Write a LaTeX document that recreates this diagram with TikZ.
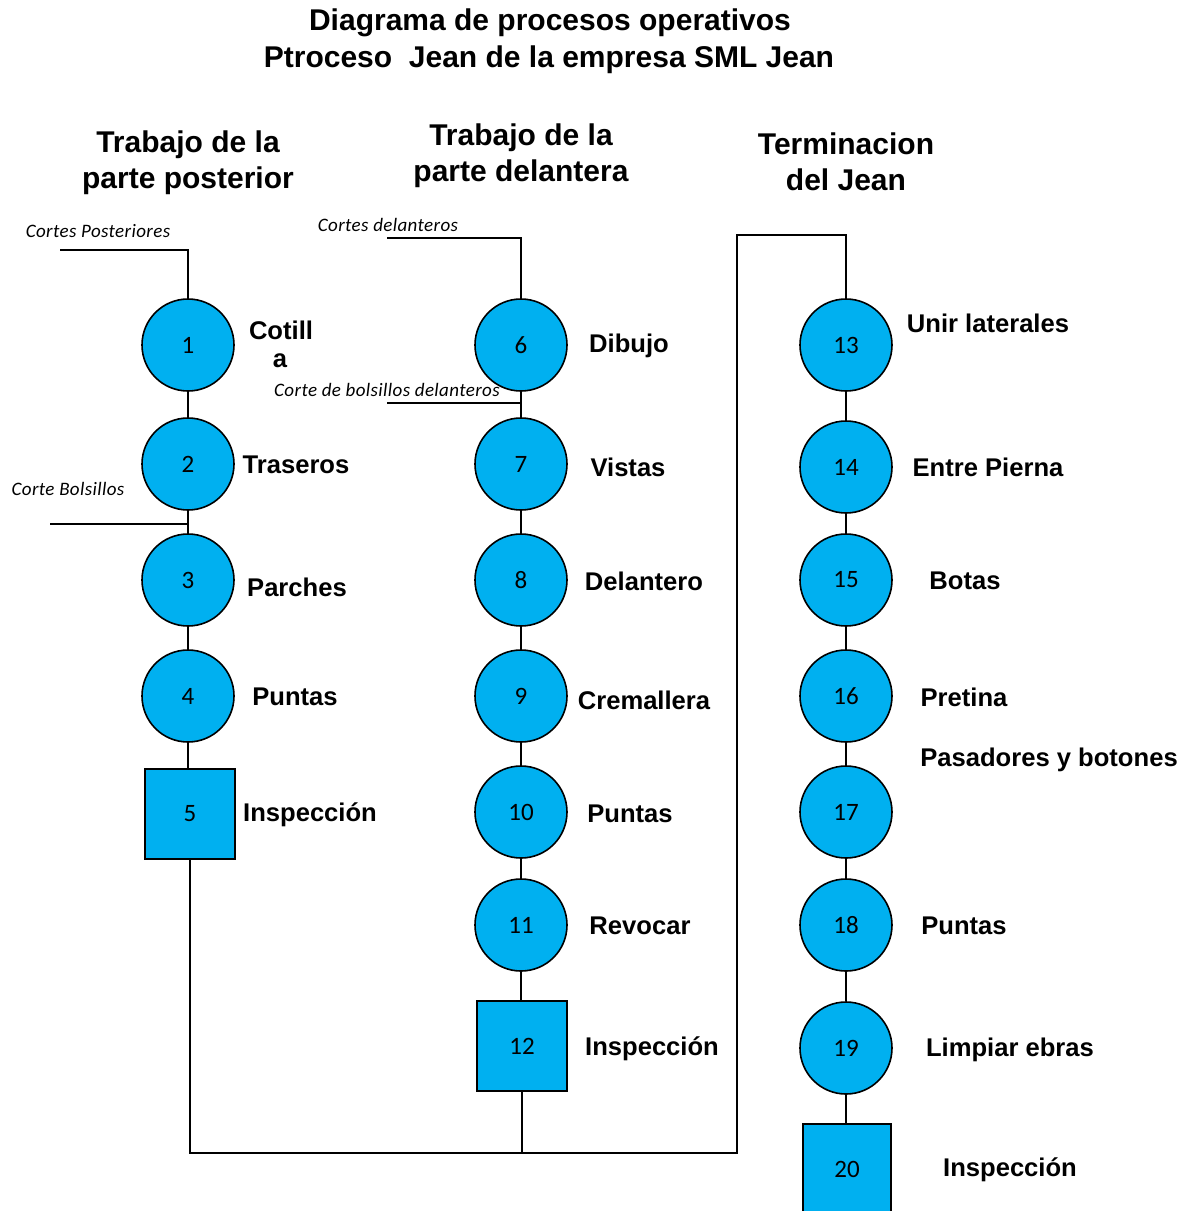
\documentclass[tikz,border=0pt]{standalone}
\usepackage{fontspec}
\setmainfont{Liberation Sans}
\newfontfamily\carl{Carlito}
\newfontfamily\carlsp[LetterSpace=2]{Carlito}
\definecolor{opblue}{RGB}{0,176,240}
\begin{document}
\begin{tikzpicture}[x=0.5pt,y=-0.5pt,
  op/.style={circle,draw=black,line width=0.8pt,fill=opblue,minimum size=46pt,inner sep=0pt,font=\carl\fontsize{12.5}{13}\selectfont},
  insp/.style={rectangle,draw=black,line width=0.8pt,fill=opblue,minimum width=45pt,minimum height=45pt,inner sep=0pt,font=\carl\fontsize{12.5}{13}\selectfont},
  lbl/.style={font=\bfseries\fontsize{12.8}{14}\selectfont,inner sep=0pt},
  head/.style={font=\bfseries\fontsize{15}{18}\selectfont,align=center,inner sep=0pt},
  small/.style={font=\carlsp\itshape\fontsize{9.5}{10}\selectfont,inner sep=0pt},
  conn/.style={draw=black,line width=1pt}]
\useasboundingbox (0,0) rectangle (1193,1211);
% titles
\node[head] (t1) at (550,23) {Diagrama de procesos operativos};
\node[head] (t2) at (549,60) {Ptroceso\ \ Jean de la empresa SML Jean};
\node[head] (h1) at (188,163) {Trabajo de la\\parte posterior};
\node[head] (h2) at (521,156) {Trabajo de la\\parte delantera};
\node[head] (h3) at (846,162) {Terminacion\\del Jean};
% column 1
\node[op] (c1) at (188,345) {1};
\node[op] (c2) at (188,464) {2};
\node[op] (c3) at (188,580) {3};
\node[op] (c4) at (188,696) {4};
\node[insp] (b5) at (190,814) {5};
% column 2
\node[op] (c6) at (521,345) {6};
\node[op] (c7) at (521,464) {7};
\node[op] (c8) at (521,580) {8};
\node[op] (c9) at (521,696) {9};
\node[op] (c10) at (521,812) {10};
\node[op] (c11) at (521,925) {11};
\node[insp] (b12) at (522,1046) {12};
% column 3
\node[op] (c13) at (846,345) {13};
\node[op] (c14) at (846,467) {14};
\node[op] (c15) at (846,580) {15};
\node[op] (c16) at (846,696) {16};
\node[op] (c17) at (846,812) {17};
\node[op] (c18) at (846,925) {18};
\node[op] (c19) at (846,1048) {19};
\node[insp,minimum width=44pt] (b20) at (847,1169) {20};
% labels
\node[lbl] (l1a) at (281,330) {Cotill};
\node[lbl] (l1b) at (280,361) {a};
\node[lbl] (l2) at (296,465) {Traseros};
\node[lbl] (l3) at (297,587) {Parches};
\node[lbl] (l4) at (295,697) {Puntas};
\node[lbl] (l5) at (310,815) {Inspección};
\node[lbl] (l6) at (629,346) {Dibujo};
\node[lbl] (l7) at (628,467) {Vistas};
\node[lbl] (l8) at (644,581) {Delantero};
\node[lbl] (l9) at (644,700) {Cremallera};
\node[lbl] (l10) at (630,814) {Puntas};
\node[lbl] (l11) at (640,926) {Revocar};
\node[lbl] (l12) at (652,1049) {Inspección};
\node[lbl] (l13) at (988,323) {Unir laterales};
\node[lbl] (l14) at (988,467) {Entre Pierna};
\node[lbl] (l15) at (965,581) {Botas};
\node[lbl] (l16) at (964,697) {Pretina};
\node[lbl] (l17) at (1049,760) {Pasadores y botones};
\node[lbl] (l18) at (964,926) {Puntas};
\node[lbl] (l19) at (1010,1050) {Limpiar ebras};
\node[lbl] (l20) at (1010,1170) {Inspección};
% small italic labels
\node[small] (s1) at (98,231) {Cortes Posteriores};
\node[small] (s2) at (68,489) {Corte Bolsillos};
\node[small] (s3) at (388,225) {Cortes delanteros};
\node[small] (s4) at (387,390) {Corte de bolsillos delanteros};
% feed coordinates
\coordinate (fp) at (60,250);
\coordinate (fb) at (50,524);
\coordinate (fd) at (387,238);
\coordinate (fbd) at (387,403);
\coordinate (ft) at (737,235);
\coordinate (fbot) at (737,1153);
% connectors column 1
\draw[conn] (fp) -| (c1);
\draw[conn] (c1) -- (c2);
\draw[conn] (c2) -- (c3);
\draw[conn] (c3) -- (c4);
\draw[conn] (c4) -- (c4 |- b5.north);
\draw[conn] (fb) -- (fb -| c2);
% column 2
\draw[conn] (fd) -| (c6);
\draw[conn] (c6) -- (c7);
\draw[conn] (c7) -- (c8);
\draw[conn] (c8) -- (c9);
\draw[conn] (c9) -- (c10);
\draw[conn] (c10) -- (c11);
\draw[conn] (c11) -- (c11 |- b12.north);
\draw[conn] (fbd) -- (fbd -| c6);
% column 3
\draw[conn] (c13) -- (c14);
\draw[conn] (c14) -- (c15);
\draw[conn] (c15) -- (c16);
\draw[conn] (c16) -- (c17);
\draw[conn] (c17) -- (c18);
\draw[conn] (c18) -- (c19);
\draw[conn] (c19) -- (c19 |- b20.north);
% joining lines
\draw[conn] (b5.south) |- (fbot) -- (ft) -| (c13);
\draw[conn] (b12.south) -- (b12.south |- fbot);
\end{tikzpicture}
\end{document}
